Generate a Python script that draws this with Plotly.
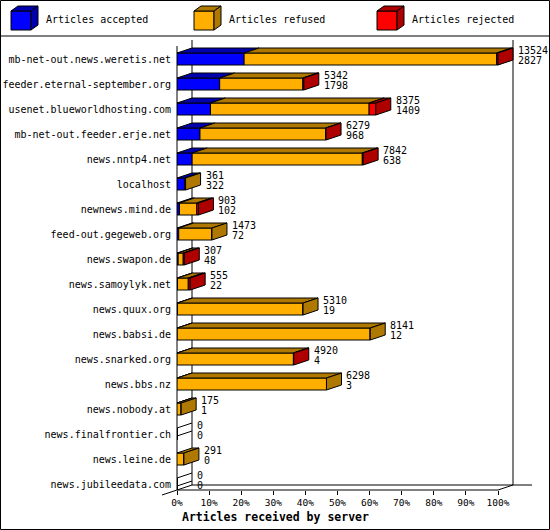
import plotly.graph_objects as go

# servers, top to bottom
servers = [
    "mb-net-out.news.weretis.net", "feeder.eternal-september.org",
    "usenet.blueworldhosting.com", "mb-net-out.feeder.erje.net",
    "news.nntp4.net", "localhost", "newnews.mind.de", "feed-out.gegeweb.org",
    "news.swapon.de", "news.samoylyk.net", "news.quux.org", "news.babsi.de",
    "news.snarked.org", "news.bbs.nz", "news.nobody.at",
    "news.finalfrontier.ch", "news.leine.de", "news.jubileedata.com",
]
offered = [13524, 5342, 8375, 6279, 7842, 361, 903, 1473, 307, 555,
           5310, 8141, 4920, 6298, 175, 0, 291, 0]
accepted = [2827, 1798, 1409, 968, 638, 322, 102, 72, 48, 22,
            19, 12, 4, 3, 1, 0, 0, 0]
# rejected counts are not printed, read off the red segments
rejected = [60, 40, 280, 20, 35, 0, 70, 0, 45, 80,
            0, 0, 15, 0, 0, 0, 0, 0]
refused = [o - a - r for o, a, r in zip(offered, accepted, rejected)]

series = ["Articles accepted", "Articles refused", "Articles rejected"]
front_colors = ["#0000FF", "#FFAF00", "#FF0000"]
dark_colors = ["#0000AF", "#AF7800", "#AF0000"]
x_ticks = list(range(0, 101, 10))

# geometry (pixels)
W, H = 550, 530
LEFT, RIGHT, TOP, BOTTOM = 177, 532, 40, 490
PX_PER_PCT = 3.21
ROW_PX = 25
ROW0 = 59                   # pixel centre of first row
DX = 15 / PX_PER_PCT        # depth of the 3d bars, x units
DY = 5 / ROW_PX             # depth, y units
HALF = 6 / ROW_PX           # half height of bar front
font = "DejaVu Sans Mono"


def P(px, py):
    # pixel -> paper coords
    return (px - LEFT) / (RIGHT - LEFT), (BOTTOM - py) / (BOTTOM - TOP)


rows = list(range(len(servers)))
scale = 100 / max(offered)
acc_p = [v * scale for v in accepted]
ref_p = [v * scale for v in refused]
rej_p = [v * scale for v in rejected]
tot_p = [v * scale for v in offered]

fig = go.Figure()

# front faces
bases = [[0] * len(rows), acc_p, [a + r for a, r in zip(acc_p, ref_p)]]
for name, vals, base, col in zip(series, [acc_p, ref_p, rej_p], bases, front_colors):
    fig.add_trace(go.Bar(
        y=rows, x=vals, base=base, orientation="h", width=2 * HALF, name=name,
        marker=dict(color=col, line=dict(color="black", width=1)),
        hoverinfo="skip", showlegend=False,
    ))


def poly_trace(xs, ys, fill):
    return go.Scatter(x=xs, y=ys, mode="lines", fill="toself", fillcolor=fill,
                      line=dict(color="black", width=1), hoverinfo="skip",
                      showlegend=False)


# top faces, one trace per series
for vals, base, col in zip([acc_p, ref_p, rej_p], bases, dark_colors):
    xs, ys = [], []
    for i in rows:
        if vals[i] <= 0:
            continue
        x0, x1 = base[i], base[i] + vals[i]
        yf, yb = i - HALF, i - HALF - DY
        xs += [x0, x1, x1 + DX, x0 + DX, x0, None]
        ys += [yf, yf, yb, yb, yf, None]
    fig.add_trace(poly_trace(xs, ys, col))

# side faces, coloured by the last segment of the bar
for k, col in enumerate(dark_colors):
    xs, ys = [], []
    for i in rows:
        if offered[i] == 0:
            continue
        last = 2 if rejected[i] > 0 else (1 if refused[i] > 0 else 0)
        if last != k:
            continue
        xe = tot_p[i]
        xs += [xe, xe, xe + DX, xe + DX, xe, None]
        ys += [i - HALF, i + HALF, i + HALF - DY, i - HALF - DY, i - HALF, None]
    fig.add_trace(poly_trace(xs, ys, col))

# empty bars are just two edges on the side wall
xs, ys = [], []
for i in rows:
    if offered[i] == 0:
        for off in (-HALF, 2 / ROW_PX):
            xs += [0, DX, None]
            ys += [i + off, i + off - DY, None]
fig.add_trace(go.Scatter(x=xs, y=ys, mode="lines", line=dict(color="black", width=1),
                         hoverinfo="skip", showlegend=False))

# value labels: offered / accepted
annotations = []
for i in rows:
    for txt, shift in ((offered[i], 9), (accepted[i], -1)):
        annotations.append(dict(
            x=tot_p[i] + DX, y=i, xref="x", yref="y", text=str(txt),
            showarrow=False, xanchor="left", yanchor="middle", xshift=3, yshift=shift,
            font=dict(family=font, size=10, color="black"),
        ))

# axis title
tx, ty = P(180, 517)
annotations.append(dict(x=tx, y=ty, xref="paper", yref="paper",
                        text="<b>Articles received by server</b>", showarrow=False,
                        xanchor="left", yanchor="middle",
                        font=dict(family=font, size=11.5, color="black")))

shapes = []


def line(x0, y0, x1, y1, layer="below"):
    a, b = P(x0, y0)
    c, d = P(x1, y1)
    shapes.append(dict(type="line", xref="paper", yref="paper", x0=a, y0=b, x1=c, y1=d,
                       line=dict(color="black", width=1), layer=layer))


def path(pts, fill):
    pp = [P(*p) for p in pts]
    d = "M " + " L ".join(f"{a},{b}" for a, b in pp) + " Z"
    shapes.append(dict(type="path", xref="paper", yref="paper", path=d,
                       fillcolor=fill, line=dict(color="black", width=1), layer="above"))


# frame: floor and walls
line(177, 490, 498, 490)
line(162, 495, 192, 485)
line(498, 490, 513, 485)
line(192, 485, 532, 485)
line(192, 485, 192, 40)
line(513, 485, 513, 40)
line(177, 490, 177, 46)

# outer border and legend separator
line(0.5, 0.5, 549.5, 0.5, "above")
line(0.5, 529.5, 549.5, 529.5, "above")
line(0.5, 0.5, 0.5, 529.5, "above")
line(549.5, 0.5, 549.5, 529.5, "above")
line(0, 36, 550, 36, "above")

# legend cubes
for k, (name, fc, dc) in enumerate(zip(series, front_colors, dark_colors)):
    x0 = 11 + k * 183
    path([(x0, 11), (x0 + 20, 11), (x0 + 20, 30), (x0, 30)], fc)
    path([(x0, 11), (x0 + 7, 6), (x0 + 27, 6), (x0 + 20, 11)], dc)
    path([(x0 + 20, 11), (x0 + 27, 6), (x0 + 27, 25), (x0 + 20, 30)], dc)
    lx, ly = P(x0 + 33, 20)
    annotations.append(dict(x=lx, y=ly, xref="paper", yref="paper", text=name,
                            showarrow=False, xanchor="left", yanchor="middle",
                            font=dict(family=font, size=10, color="black")))

fig.update_layout(
    width=W, height=H,
    margin=dict(l=LEFT, r=W - RIGHT, t=TOP, b=H - BOTTOM, pad=0, autoexpand=False),
    paper_bgcolor="white", plot_bgcolor="white",
    barmode="overlay", showlegend=False,
    annotations=annotations, shapes=shapes,
    font=dict(family=font, size=10, color="black"),
)
fig.update_xaxes(range=[0, (RIGHT - LEFT) / PX_PER_PCT], tickvals=x_ticks,
                 ticktext=[f"{v}%" for v in x_ticks], ticks="outside", ticklen=4,
                 tickcolor="black", showline=False, showgrid=False, zeroline=False,
                 automargin=False, tickfont=dict(family=font, size=9.5, color="black"))
fig.update_yaxes(range=[(BOTTOM - ROW0) / ROW_PX, (TOP - ROW0) / ROW_PX],
                 tickvals=rows, ticktext=servers, showgrid=False, zeroline=False,
                 showline=False, ticks="", ticklabelstandoff=5, automargin=False,
                 tickfont=dict(family=font, size=10, color="black"))

# page body has a default margin; drop it so the chart sits at 0,0
fig.write_html("out.html", config={"displayModeBar": False},
               post_script="document.body.style.margin='0';")
